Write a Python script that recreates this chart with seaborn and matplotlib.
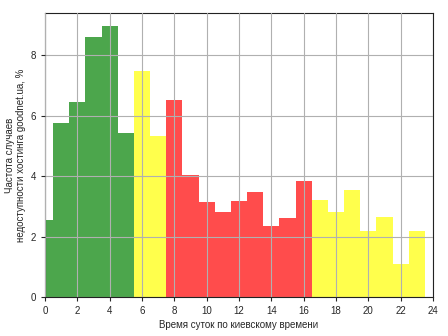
import matplotlib
matplotlib.use("Agg")
import matplotlib.pyplot as plt
import seaborn as sns
import pandas as pd

hours = list(range(24))
values = [2.54, 5.76, 6.45, 8.61, 8.97, 5.43, 7.48, 5.33, 6.52, 4.03, 3.14, 2.81,
          3.17, 3.47, 2.34, 2.61, 3.83, 3.20, 2.82, 3.54, 2.19, 2.64, 1.08, 2.19]
groups = ["night"] * 6 + ["edge"] * 2 + ["day"] * 9 + ["evening"] * 7
palette = {"night": "green", "edge": "yellow", "day": "red", "evening": "yellow"}

df = pd.DataFrame({"hour": hours, "value": values, "group": groups})

sns.set_style("ticks")
plt.rcParams['font.family'] = ['Liberation Sans', 'DejaVu Sans']

fig = plt.figure(figsize=(4.48, 3.36), dpi=100)
ax = fig.add_axes([45/448, 1 - 297/336, (433-45)/448, (297-13)/336])

sns.barplot(data=df, x="hour", y="value", hue="group", palette=palette,
            native_scale=True, dodge=False, width=1, saturation=1, alpha=0.7,
            linewidth=0, legend=False, ax=ax)

ax.set_xlim(0, 24)
ax.set_ylim(0, 9.39)
ax.set_xticks(range(0, 25, 2))
ax.set_yticks([0, 2, 4, 6, 8])
ax.grid(True, color="#b0b0b0", linewidth=0.8)
ax.set_axisbelow(False)
ax.tick_params(labelsize=7, length=3, width=0.8)
for s in ax.spines.values():
    s.set_visible(True)
    s.set_linewidth(0.8)
    s.set_color("#222222")
ax.set_xlabel("Время суток по киевскому времени", fontsize=7, labelpad=3)
ax.set_ylabel("Частота случаев\nнедоступности хостинга goodnet.ua, %", fontsize=7, labelpad=3)

fig.savefig("out.png", dpi=100)
